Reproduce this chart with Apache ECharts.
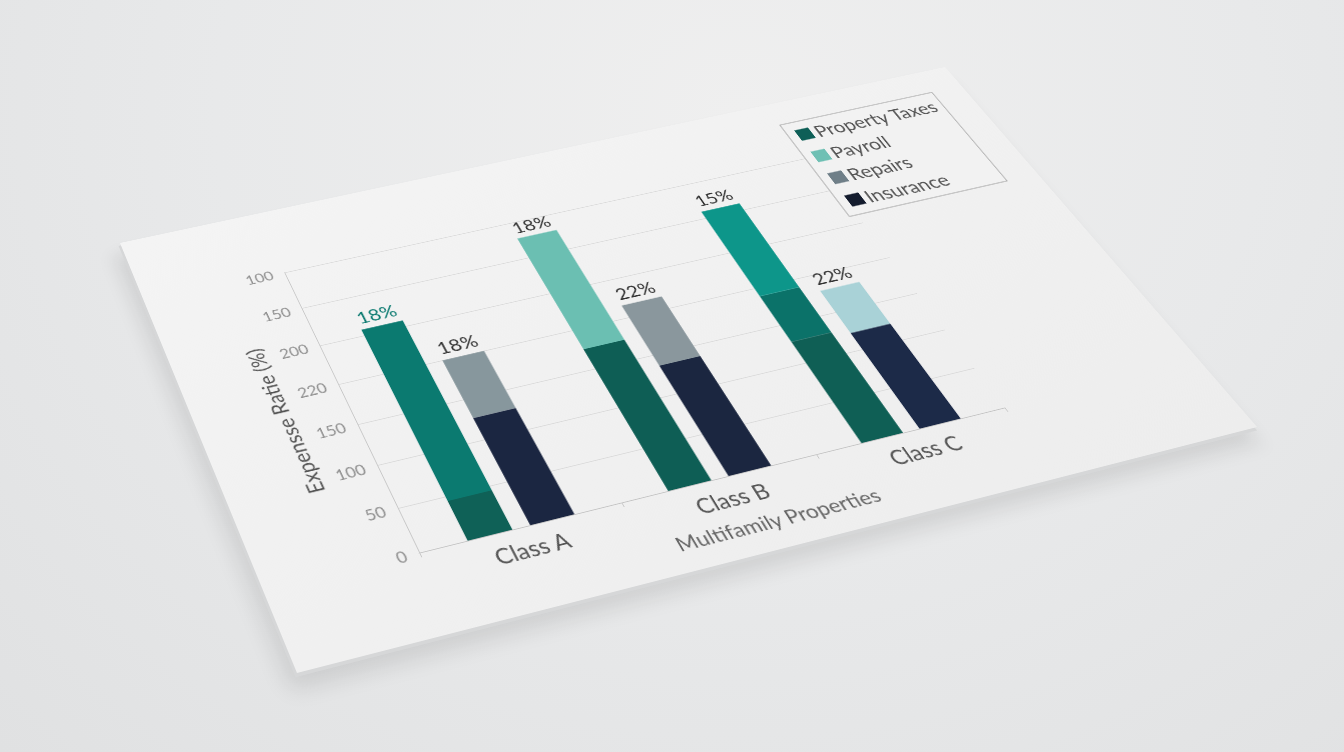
<!DOCTYPE html>
<html>
<head>
<meta charset="utf-8">
<script src="https://cdn.jsdelivr.net/npm/echarts@6/dist/echarts.min.js"></script>
<style>
  html, body { margin: 0; padding: 0; width: 1344px; height: 752px; overflow: hidden; }
  body { background: radial-gradient(ellipse at 55% 15%, #efefef 0%, #e8e9ea 50%, #e0e1e2 100%); }
  #paper {
    position: absolute; left: 0; top: 0;
    width: 1100px; height: 600px;
    background: linear-gradient(160deg, #f4f4f4 0%, #f0f0f0 60%, #ededed 100%);
    transform-origin: 0 0;
    box-shadow: -3px 4px 0 #d6d7d8, -12px 18px 22px rgba(0, 0, 0, 0.10);
  }
  #chart { width: 100%; height: 100%; }
</style>
</head>
<body>
<div id="paper"><div id="chart"></div></div>
<script>
  // data
  const categories = ['Class A', 'Class B', 'Class C']
  const yTickLabels = ['0', '50', '100', '150', '220', '200', '150', '100']
  const legendNames = ['Property Taxes', 'Payroll', 'Repairs', 'Insurance']

  // first bar of each class (stacked)
  const leftBase = [45, 175, 128]
  const leftMid = [213, 153, 61]
  const leftTop = [0, 0, 121]
  const leftLabels = ['18%', '18%', '15%']

  // second bar of each class (stacked)
  const rightBase = [127, 136, 122]
  const rightTop = [73, 80, 57]
  const rightLabels = ['18%', '22%', '22%']

  // colours
  const legendColors = {
    'Property Taxes': '#0e5f57',
    'Payroll': '#6fc0b4',
    'Repairs': '#6f7f88',
    'Insurance': '#141c2e'
  }
  const leftBaseColors = ['#0f6157', '#0e5e55', '#0f5f55']
  const leftMidColors = ['#0b7a70', '#6bbfb2', '#0b7269']
  const leftTopColors = ['#0d968a', '#0d968a', '#0d968a']
  const rightBaseColors = ['#1b2641', '#1b2640', '#1c2a48']
  const rightTopColors = ['#87979d', '#8a979d', '#a9d2d7']
  const leftLabelColors = ['#0b7a70', '#333333', '#333333']
  const rightLabelColors = ['#333333', '#333333', '#333333']

  // paper corners on screen: TL, TR, BR, BL
  const corners = [[120, 243], [945, 67], [1257, 427], [297, 673]]
  const PW = 1100
  const PH = 600

  // square -> quad homography, as a css matrix3d
  function paperMatrix (w, h, p) {
    const [x0, y0] = p[0], [x1, y1] = p[1], [x2, y2] = p[2], [x3, y3] = p[3]
    const dx1 = x1 - x2, dy1 = y1 - y2
    const dx2 = x3 - x2, dy2 = y3 - y2
    const dx3 = x0 - x1 + x2 - x3, dy3 = y0 - y1 + y2 - y3
    const den = dx1 * dy2 - dx2 * dy1
    const g = (dx3 * dy2 - dx2 * dy3) / den
    const hh = (dx1 * dy3 - dx3 * dy1) / den
    const a = x1 - x0 + g * x1
    const b = x3 - x0 + hh * x3
    const d = y1 - y0 + g * y1
    const e = y3 - y0 + hh * y3
    return 'matrix3d(' + [
      a / w, d / w, 0, g / w,
      b / h, e / h, 0, hh / h,
      0, 0, 1, 0,
      x0, y0, 0, 1
    ].join(',') + ')'
  }

  document.getElementById('paper').style.transform = paperMatrix(PW, PH, corners)

  function buildItems (values, colors, labels, labelColors, isTop) {
    return values.map((v, i) => ({
      value: v,
      itemStyle: { color: colors[i] },
      label: isTop(i)
        ? { show: true, position: 'top', distance: 5, formatter: labels[i], color: labelColors[i], fontSize: 24 }
        : { show: false }
    }))
  }

  const leftIsTopMid = i => !(leftTop[i] > 0)
  const leftIsTopTop = i => leftTop[i] > 0

  const barCommon = {
    type: 'bar',
    barWidth: '22%',
    barGap: '40%'
  }

  const chart = echarts.init(document.getElementById('chart'), null, { renderer: 'svg' })

  chart.setOption({
    backgroundColor: 'transparent',
    textStyle: { fontFamily: 'Lato, "Open Sans", sans-serif' },
    animation: false,
    legend: {
      orient: 'vertical',
      left: 845,
      top: 37,
      data: legendNames,
      icon: 'rect',
      itemWidth: 19,
      itemHeight: 19,
      itemGap: 13,
      padding: [10, 8, 10, 12],
      borderColor: '#9c9c9c',
      borderWidth: 1,
      backgroundColor: '#f2f2f2',
      textStyle: { fontSize: 26, color: '#555555' }
    },
    grid: {
      left: 170,
      right: 245,
      top: 98,
      bottom: 98,
      outerBoundsMode: 'none'
    },
    xAxis: {
      type: 'category',
      data: categories,
      axisLine: { lineStyle: { color: '#c4c4c4' } },
      axisTick: { show: true, length: 6, lineStyle: { color: '#c8c8c8' } },
      axisLabel: { fontSize: 26, color: '#555555', margin: 14 },
      name: 'Multifamily Properties',
      nameLocation: 'middle',
      nameGap: 52,
      nameTextStyle: { fontSize: 24, color: '#666666', padding: [0, 0, 0, 66] }
    },
    yAxis: {
      type: 'value',
      min: 0,
      max: 350,
      interval: 50,
      axisLine: { show: true, lineStyle: { color: '#c8c8c8' } },
      axisTick: { show: false },
      splitLine: { lineStyle: { color: '#dadada' } },
      axisLabel: {
        fontSize: 19,
        color: '#8f8f8f',
        margin: 14,
        formatter: v => yTickLabels[Math.round(v / 50)]
      },
      name: 'Expensse Ratie (%)',
      nameLocation: 'middle',
      nameGap: 62,
      nameTextStyle: { fontSize: 25, color: '#555555' }
    },
    series: [
      {
        ...barCommon,
        name: 'Property Taxes',
        stack: 'left',
        itemStyle: { color: legendColors['Property Taxes'] },
        data: buildItems(leftBase, leftBaseColors, leftLabels, leftLabelColors, () => false)
      },
      {
        ...barCommon,
        name: 'Payroll',
        stack: 'left',
        itemStyle: { color: legendColors['Payroll'] },
        data: buildItems(leftMid, leftMidColors, leftLabels, leftLabelColors, leftIsTopMid)
      },
      {
        ...barCommon,
        name: 'Other',
        stack: 'left',
        itemStyle: { color: '#0d968a' },
        data: buildItems(leftTop, leftTopColors, leftLabels, leftLabelColors, leftIsTopTop)
      },
      {
        ...barCommon,
        name: 'Insurance',
        stack: 'right',
        itemStyle: { color: legendColors['Insurance'] },
        data: buildItems(rightBase, rightBaseColors, rightLabels, rightLabelColors, () => false)
      },
      {
        ...barCommon,
        name: 'Repairs',
        stack: 'right',
        itemStyle: { color: legendColors['Repairs'] },
        data: buildItems(rightTop, rightTopColors, rightLabels, rightLabelColors, () => true)
      }
    ]
  })
</script>
</body>
</html>
